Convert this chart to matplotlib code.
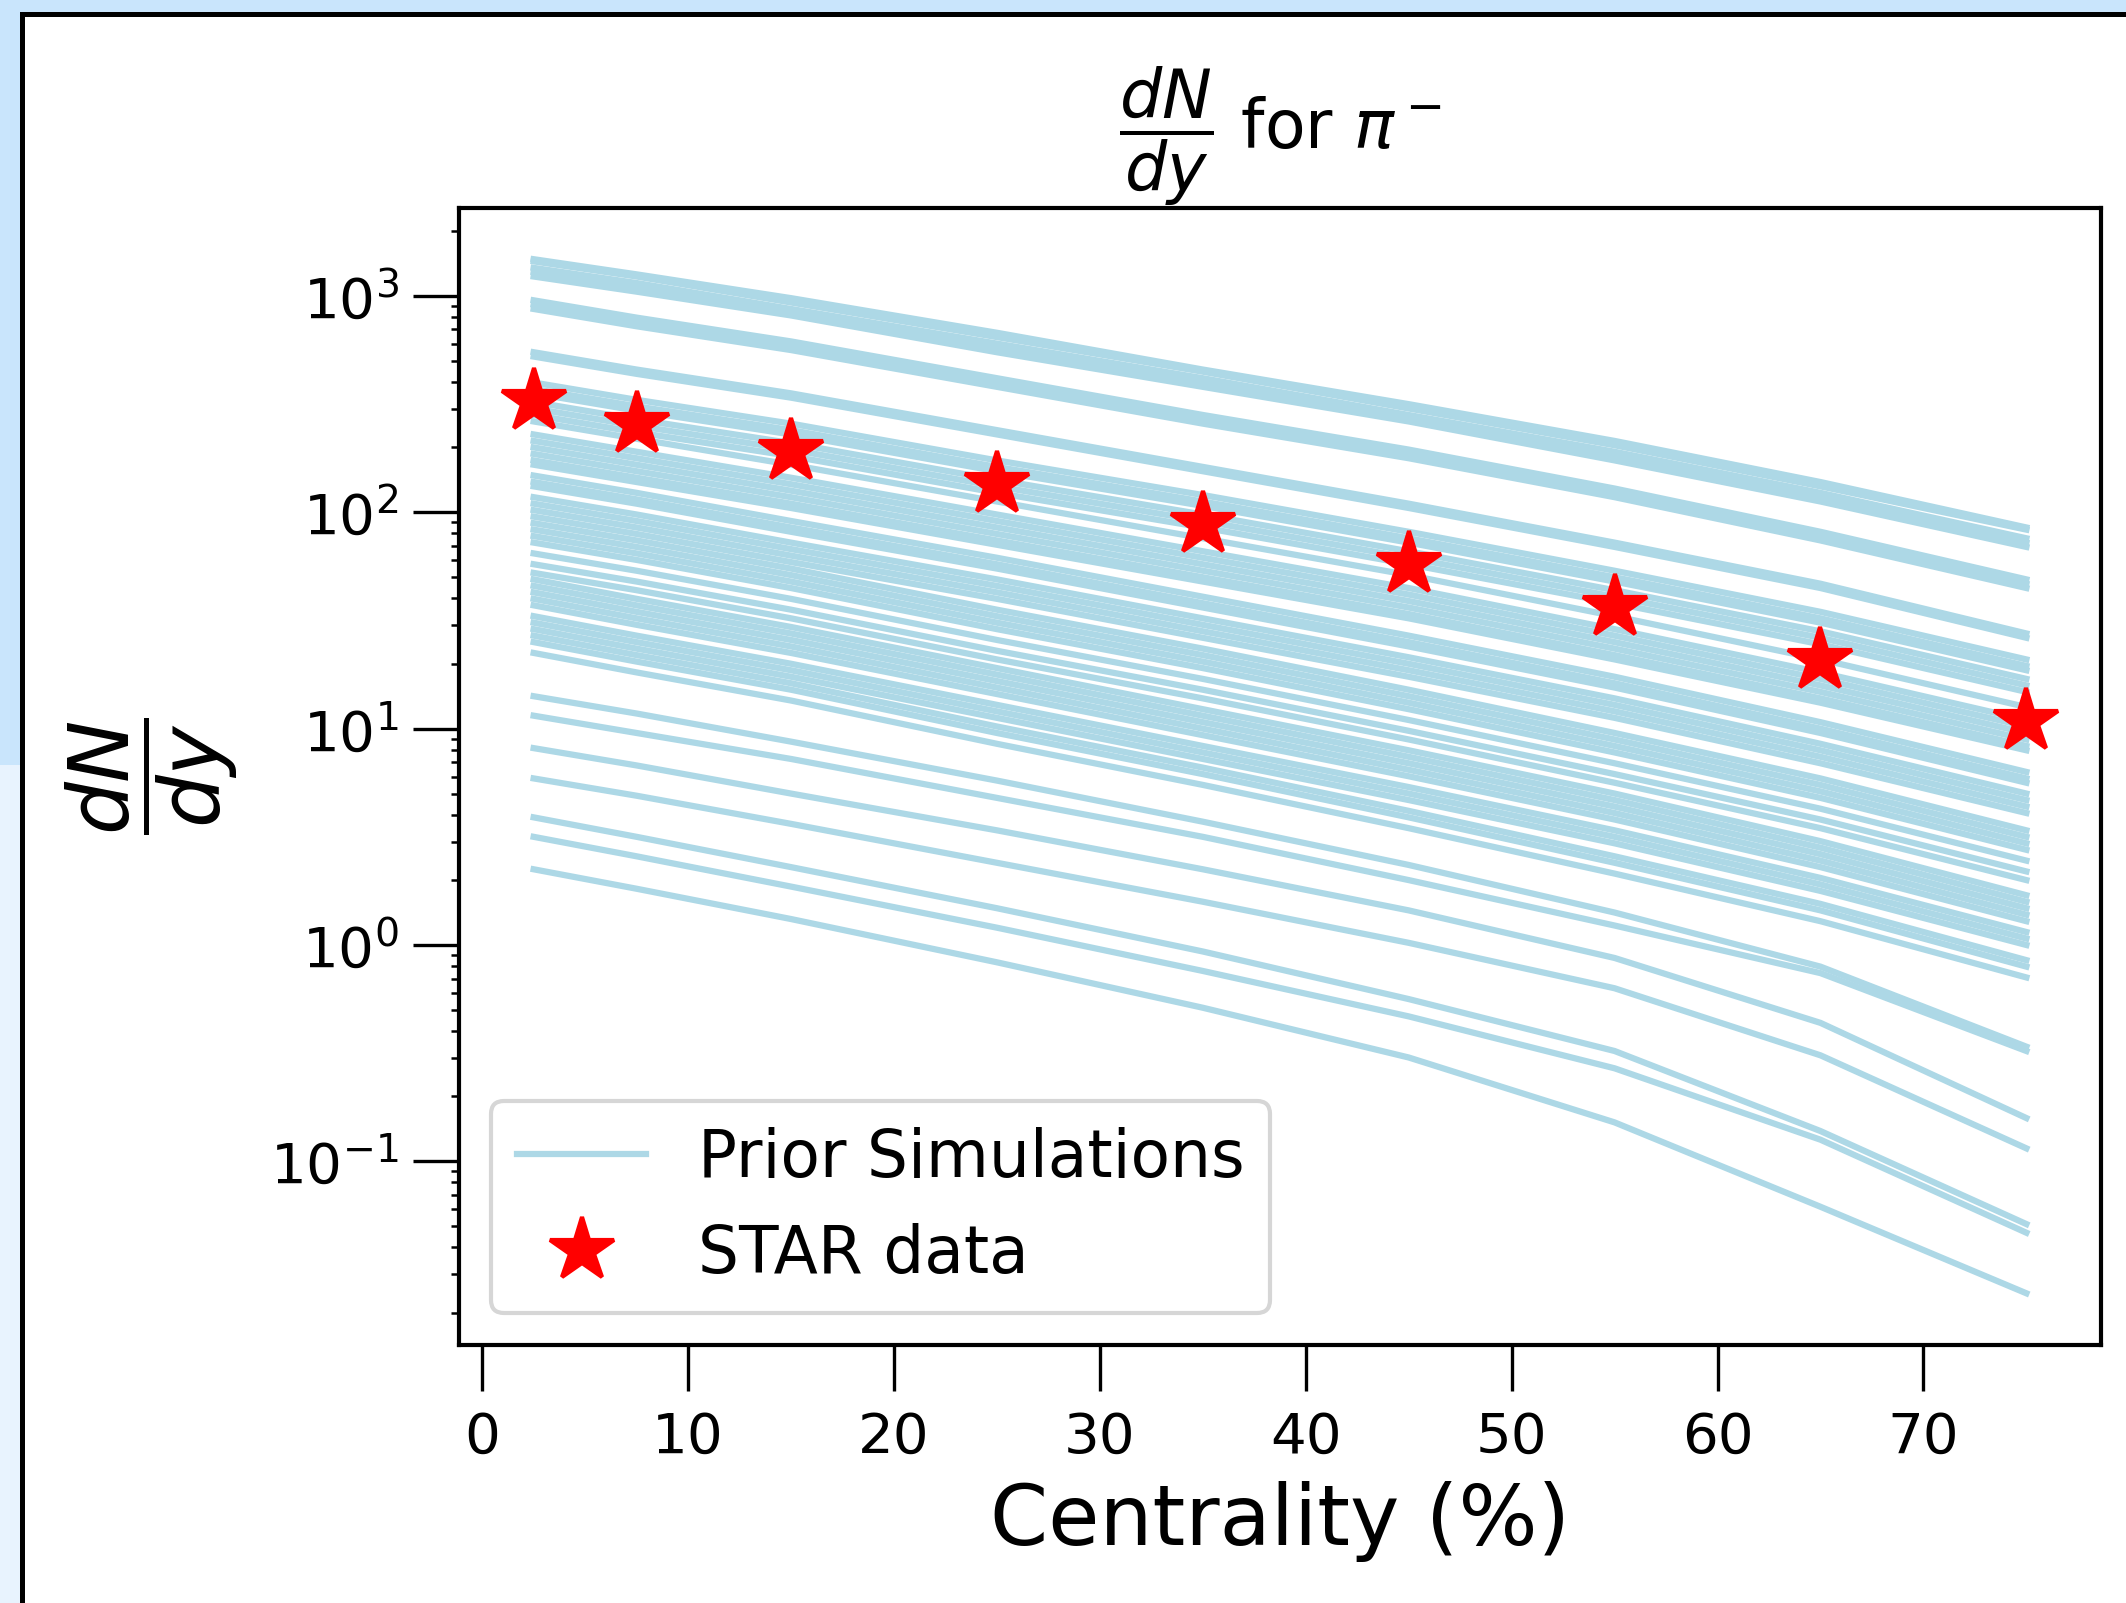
import numpy as np
import matplotlib
matplotlib.use("Agg")
import matplotlib.pyplot as plt
from matplotlib.patches import Rectangle

# centrality bin centres (%)
centrality = [2.5, 7.5, 15, 25, 35, 45, 55, 65, 75]

# STAR pi- dN/dy
star_dndy = [328, 256, 193, 135, 88.6, 57.5, 36.4, 20.7, 10.9]

# prior simulations as log10(dN/dy)
prior_top = [
    [3.17, 3.10, 2.99, 2.83, 2.66, 2.50, 2.33, 2.14, 1.93],
    [3.16, 3.09, 2.97, 2.81, 2.65, 2.48, 2.31, 2.12, 1.92],
    [3.13, 3.06, 2.94, 2.78, 2.62, 2.45, 2.28, 2.09, 1.88],
    [3.11, 3.04, 2.93, 2.76, 2.60, 2.44, 2.26, 2.07, 1.86],
    [3.09, 3.02, 2.91, 2.74, 2.58, 2.42, 2.24, 2.05, 1.84],
]
prior_upper = [
    [2.98, 2.90, 2.79, 2.62, 2.45, 2.29, 2.11, 1.91, 1.69],
    [2.96, 2.88, 2.77, 2.60, 2.43, 2.27, 2.09, 1.89, 1.67],
    [2.94, 2.86, 2.75, 2.58, 2.41, 2.25, 2.07, 1.87, 1.65],
    [2.74, 2.66, 2.55, 2.38, 2.21, 2.04, 1.86, 1.67, 1.44],
    [2.72, 2.64, 2.53, 2.36, 2.19, 2.02, 1.84, 1.65, 1.42],
]
prior_band = [
    [2.60, 2.52, 2.41, 2.24, 2.08, 1.91, 1.73, 1.54, 1.32],
    [2.57, 2.49, 2.38, 2.21, 2.05, 1.88, 1.70, 1.51, 1.29],
    [2.55, 2.47, 2.36, 2.19, 2.03, 1.86, 1.68, 1.49, 1.27],
    [2.51, 2.43, 2.32, 2.15, 1.99, 1.82, 1.64, 1.45, 1.23],
    [2.48, 2.40, 2.29, 2.12, 1.96, 1.79, 1.61, 1.42, 1.20],
    [2.45, 2.37, 2.26, 2.09, 1.93, 1.76, 1.58, 1.39, 1.17],
    [2.42, 2.34, 2.22, 2.05, 1.88, 1.71, 1.52, 1.32, 1.10],
    [2.36, 2.28, 2.16, 1.99, 1.82, 1.65, 1.46, 1.26, 1.04],
    [2.33, 2.25, 2.13, 1.96, 1.79, 1.62, 1.43, 1.23, 1.01],
    [2.30, 2.22, 2.10, 1.93, 1.76, 1.59, 1.40, 1.20, 0.98],
    [2.27, 2.19, 2.07, 1.90, 1.73, 1.56, 1.37, 1.17, 0.95],
    [2.24, 2.16, 2.04, 1.87, 1.70, 1.53, 1.34, 1.14, 0.92],
    [2.22, 2.14, 2.02, 1.85, 1.68, 1.51, 1.32, 1.12, 0.90],
    [2.17, 2.09, 1.96, 1.79, 1.61, 1.43, 1.24, 1.03, 0.80],
    [2.14, 2.06, 1.93, 1.76, 1.58, 1.40, 1.21, 1.00, 0.77],
    [2.12, 2.04, 1.91, 1.74, 1.56, 1.38, 1.19, 0.98, 0.75],
    [2.07, 1.99, 1.86, 1.69, 1.51, 1.33, 1.14, 0.93, 0.70],
    [2.04, 1.96, 1.83, 1.66, 1.48, 1.30, 1.11, 0.90, 0.67],
    [2.01, 1.93, 1.80, 1.63, 1.45, 1.27, 1.08, 0.87, 0.64],
    [1.98, 1.90, 1.77, 1.60, 1.42, 1.24, 1.05, 0.84, 0.61],
    [1.95, 1.87, 1.74, 1.55, 1.37, 1.18, 0.98, 0.77, 0.53],
    [1.92, 1.84, 1.71, 1.52, 1.34, 1.15, 0.95, 0.74, 0.50],
    [1.89, 1.81, 1.68, 1.49, 1.31, 1.12, 0.92, 0.71, 0.47],
    [1.86, 1.78, 1.65, 1.46, 1.28, 1.09, 0.89, 0.68, 0.44],
    [1.81, 1.73, 1.60, 1.41, 1.23, 1.04, 0.84, 0.63, 0.39],
    [1.76, 1.68, 1.55, 1.36, 1.18, 0.99, 0.79, 0.58, 0.34],
    [1.72, 1.64, 1.51, 1.32, 1.14, 0.95, 0.75, 0.54, 0.30],
    [1.69, 1.60, 1.47, 1.28, 1.09, 0.90, 0.70, 0.48, 0.23],
    [1.66, 1.57, 1.44, 1.25, 1.06, 0.87, 0.67, 0.45, 0.20],
    [1.63, 1.54, 1.41, 1.22, 1.03, 0.84, 0.64, 0.42, 0.17],
    [1.60, 1.51, 1.38, 1.19, 1.00, 0.81, 0.61, 0.39, 0.14],
    [1.57, 1.48, 1.35, 1.16, 0.97, 0.78, 0.58, 0.36, 0.11],
    [1.52, 1.43, 1.30, 1.11, 0.92, 0.73, 0.53, 0.31, 0.06],
    [1.49, 1.40, 1.27, 1.08, 0.89, 0.70, 0.50, 0.28, 0.03],
    [1.46, 1.37, 1.24, 1.05, 0.86, 0.67, 0.47, 0.25, 0.00],
    [1.43, 1.34, 1.21, 1.01, 0.82, 0.62, 0.41, 0.19, -0.07],
    [1.40, 1.31, 1.18, 0.98, 0.79, 0.59, 0.38, 0.16, -0.10],
    [1.35, 1.26, 1.13, 0.93, 0.74, 0.54, 0.33, 0.11, -0.15],
]
prior_low = [
    [1.15, 1.07, 0.94, 0.76, 0.57, 0.37, 0.15, -0.10, -0.47],
    [1.06, 0.98, 0.86, 0.68, 0.50, 0.30, 0.09, -0.13, -0.49],
    [0.91, 0.83, 0.70, 0.53, 0.35, 0.16, -0.06, -0.36, -0.80],
    [0.77, 0.69, 0.56, 0.38, 0.20, 0.01, -0.20, -0.51, -0.94],
    [0.59, 0.50, 0.36, 0.17, -0.03, -0.25, -0.49, -0.86, -1.29],
    [0.50, 0.41, 0.27, 0.08, -0.12, -0.33, -0.57, -0.90, -1.33],
    [0.35, 0.26, 0.12, -0.08, -0.29, -0.52, -0.82, -1.21, -1.61],
]

W, H = 2126, 1603
fig = plt.figure(figsize=(W / 300, H / 300), dpi=300, facecolor="#c9e5fc")

# screenshot frame around the notebook output
fig.add_artist(Rectangle((0, 0), 22 / W, (H - 765) / H, transform=fig.transFigure,
                         facecolor="#e8f3fe", edgecolor="none", zorder=-2))
fig.add_artist(Rectangle((22 / W, -0.05), 1.1, (H - 13.5) / H + 0.05, transform=fig.transFigure,
                         facecolor="white", edgecolor="black", linewidth=1.2, zorder=-1))

ax = fig.add_axes([459 / W, 1 - 1345 / H, (2101 - 459) / W, (1345 - 207.5) / H])

all_prior = prior_top + prior_upper + prior_band + prior_low
for i, row in enumerate(all_prior):
    ax.plot(centrality, 10 ** np.array(row), color="lightblue", lw=1.5,
            label="Prior Simulations" if i == 0 else None)
ax.plot(centrality, star_dndy, ls="none", marker="*", color="red", ms=16, label="STAR data")

ax.set_yscale("log")
ax.set_title(r"$\dfrac{dN}{dy}$ for $\pi^-$", fontsize=16, pad=10.5)
ax.set_xlabel("Centrality (%)", fontsize=20)
ax.set_ylabel(r"$\dfrac{dN}{dy}$", fontsize=20, labelpad=7.3)
ax.tick_params(which="major", length=11, labelsize=13.5)
ax.tick_params(axis="x", pad=4.8)
for s in ax.spines.values():
    s.set_linewidth(1.0)
ax.legend(loc="lower left", fontsize=15.5)

fig.savefig("out.png", dpi=300, facecolor=fig.get_facecolor())
